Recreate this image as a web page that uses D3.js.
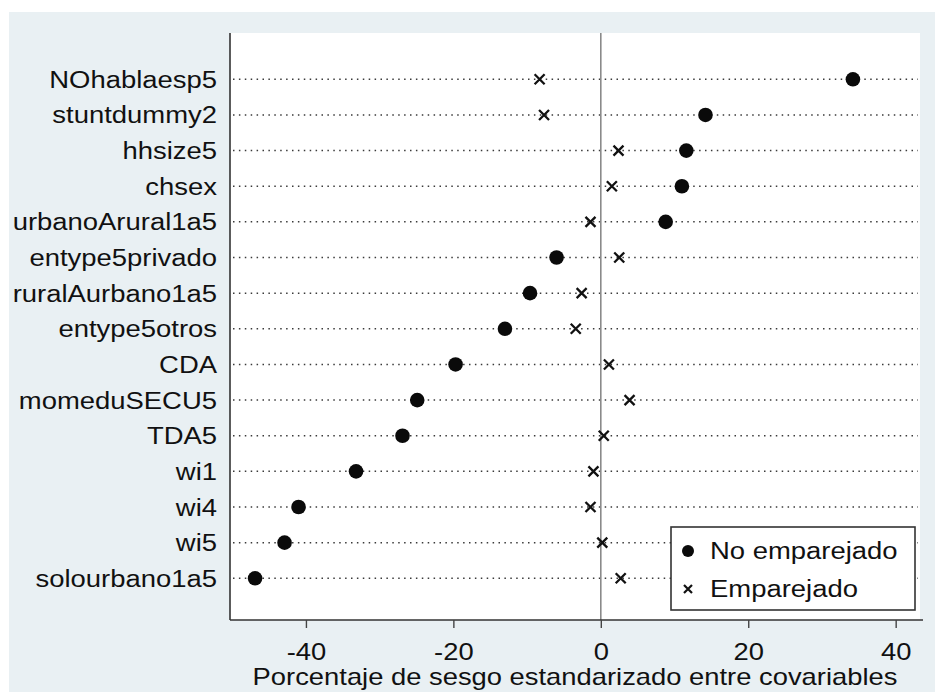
<!DOCTYPE html>
<html>
<head>
<meta charset="utf-8">
<script src="https://cdn.jsdelivr.net/npm/d3@7"></script>
<style>
  html, body { margin: 0; padding: 0; background: #fff; }
  text { font-family: "Liberation Sans", Arial, sans-serif; fill: #111; }
</style>
</head>
<body>
<div id="figure-container"></div>
<script>
// covariables, top to bottom
var categories = [
  'NOhablaesp5', 'stuntdummy2', 'hhsize5', 'chsex', 'urbanoArural1a5',
  'entype5privado', 'ruralAurbano1a5', 'entype5otros', 'CDA', 'momeduSECU5',
  'TDA5', 'wi1', 'wi4', 'wi5', 'solourbano1a5'
];
// % standardized bias, unmatched sample
var unmatched = [34.2, 14.2, 11.6, 11.0, 8.8, -6.0, -9.6, -13.0, -19.7, -24.9,
  -26.9, -33.2, -41.0, -42.9, -46.9];
// % standardized bias, matched sample
var matched = [-8.3, -7.7, 2.4, 1.5, -1.4, 2.5, -2.6, -3.4, 1.1, 3.9,
  0.4, -1.0, -1.4, 0.2, 2.7];
var xTicks = [-40, -20, 0, 20, 40];
var legendLabels = ['No emparejado', 'Emparejado'];
var xTitle = 'Porcentaje de sesgo estandarizado entre covariables';

var fullWidth = 935;
var fullHeight = 692;

var plot = {left: 230, right: 920, top: 33, bottom: 620};

var xScale = d3.scaleLinear()
  .domain([-50.3, 43.3])
  .range([plot.left, plot.right]);

var yScale = d3.scalePoint()
  .domain(categories)
  .range([79.3, 578.3]);

var svg = d3.select('#figure-container')
  .append('svg')
  .attr('width', fullWidth)
  .attr('height', fullHeight);

// text in the source is a bit wider than Arial, stretch it horizontally
function stext(g, x, y, str, size, anchor, sx) {
  return g.append('text')
    .attr('transform', `translate(${x},${y}) scale(${sx || 1.12},1)`)
    .attr('text-anchor', anchor || 'start')
    .style('font-size', size + 'px')
    .text(str);
}

// outer graph region
svg.append('rect')
  .attr('x', 9).attr('y', 12)
  .attr('width', fullWidth - 9).attr('height', fullHeight - 12)
  .attr('fill', '#e9f0f3');

// plot region
svg.append('rect')
  .attr('x', plot.left).attr('y', plot.top)
  .attr('width', plot.right - plot.left).attr('height', plot.bottom - plot.top)
  .attr('fill', '#fff');

// dotted guide lines
svg.append('g')
  .selectAll('line')
  .data(categories)
  .enter()
    .append('line')
    .attr('x1', plot.left + 3)
    .attr('x2', plot.right - 2)
    .attr('y1', d => yScale(d))
    .attr('y2', d => yScale(d))
    .attr('stroke', '#3a3a3a')
    .attr('stroke-width', 1.5)
    .attr('stroke-dasharray', '1.5 4.4');

// zero reference line
svg.append('line')
  .attr('x1', xScale(0)).attr('x2', xScale(0))
  .attr('y1', plot.top).attr('y2', plot.bottom)
  .attr('stroke', '#8a8a8a')
  .attr('stroke-width', 1.6);

// left axis line
svg.append('line')
  .attr('x1', plot.left).attr('x2', plot.left)
  .attr('y1', plot.top).attr('y2', plot.bottom)
  .attr('stroke', '#333')
  .attr('stroke-width', 1.6);

// category labels
var labels = svg.append('g').attr('class', 'labels');
categories.forEach(function(c) {
  stext(labels, 217, yScale(c) + 8.5, c, 24.5, 'end');
});

// bottom axis
var xAxis = d3.axisBottom(xScale)
  .tickValues(xTicks)
  .tickSize(8)
  .tickPadding(9)
  .tickSizeOuter(0);

var axisG = svg.append('g')
  .attr('class', 'axis x')
  .attr('transform', `translate(0,${plot.bottom})`)
  .call(xAxis);
axisG.select('.domain')
  .attr('stroke', '#333')
  .attr('stroke-width', 1.6)
  .attr('d', `M${plot.left},0H${plot.right + 3}`);
axisG.selectAll('.tick line').attr('stroke', '#444').attr('stroke-width', 1.4);
axisG.selectAll('.tick text').remove();
axisG.selectAll('.tick').each(function(d) {
  stext(d3.select(this), 0, 40, d, 23, 'middle', 1.19);
});

stext(svg, (plot.left + plot.right) / 2, 685, xTitle, 23, 'middle', 1.19);

// matched: x markers
var render = () => {
  var marks = svg.append('g').attr('class', 'data-area');

  marks.append('g')
    .selectAll('path')
    .data(categories)
    .enter()
      .append('path')
      .attr('d', function(d, i) {
        var cx = xScale(matched[i]), cy = yScale(d), s = 5;
        return `M${cx - s},${cy - s}L${cx + s},${cy + s}M${cx - s},${cy + s}L${cx + s},${cy - s}`;
      })
      .attr('stroke', '#111')
      .attr('stroke-width', 2.3)
      .attr('fill', 'none');

  // unmatched: filled dots
  marks.append('g')
    .selectAll('circle')
    .data(categories)
    .enter()
      .append('circle')
      .attr('cx', function(d, i) { return xScale(unmatched[i]); })
      .attr('cy', function(d, i) { return yScale(d); })
      .attr('r', 7.3)
      .attr('fill', '#0a0a0a');
};
render();

// legend
var legend = svg.append('g').attr('class', 'legend');
legend.append('rect')
  .attr('x', 671).attr('y', 527)
  .attr('width', 244).attr('height', 83)
  .attr('fill', '#fff')
  .attr('stroke', '#333')
  .attr('stroke-width', 1.6);
legend.append('circle')
  .attr('cx', 688).attr('cy', 551)
  .attr('r', 6)
  .attr('fill', '#0a0a0a');
legend.append('path')
  .attr('d', 'M684,585L692,593M684,593L692,585')
  .attr('stroke', '#111')
  .attr('stroke-width', 2.2);
stext(legend, 710, 559, legendLabels[0], 24.5);
stext(legend, 710, 597, legendLabels[1], 24.5);
</script>
</body>
</html>
